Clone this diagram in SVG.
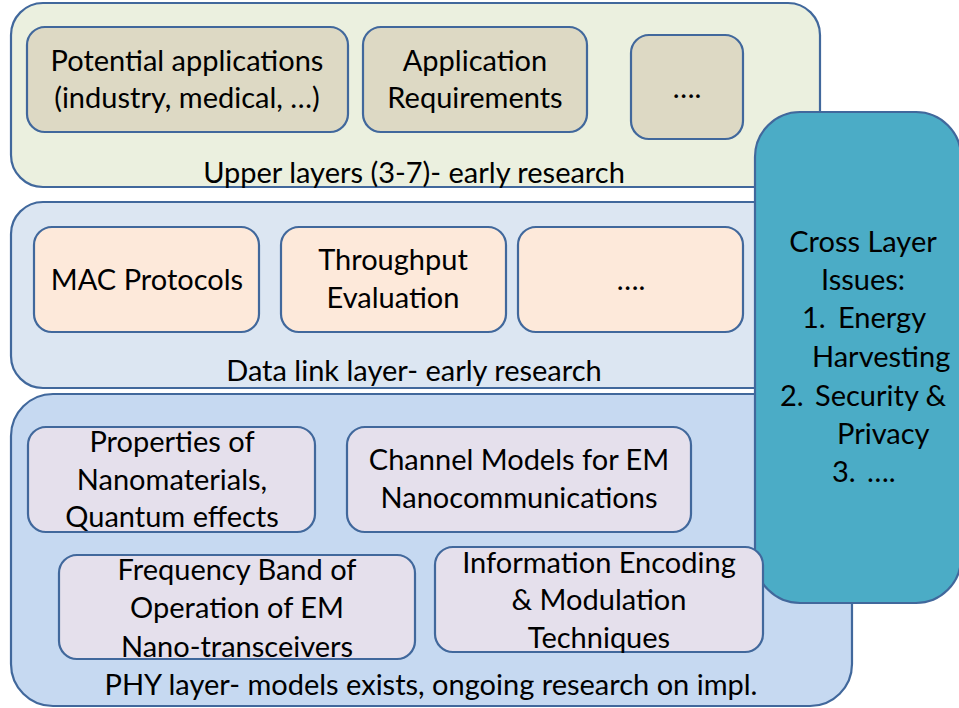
<svg xmlns="http://www.w3.org/2000/svg" width="959" height="708" viewBox="0 0 959 708">
<style>
text{font-family:Lato,"Open Sans","Liberation Sans",sans-serif;font-size:29px;fill:#000;text-anchor:middle}
.layer{stroke:#41689C;stroke-width:2.2}
.node{stroke:#41689C;stroke-width:2.2}
.up{fill:#EBF0DF}
.upn{fill:#DDD9C4}
.dl{fill:#DCE6F2}
.dln{fill:#FDE9DA}
.phy{fill:#C6D9F1}
.phyn{fill:#E5E0EC}
.cross{fill:#4BACC6}
.l{text-anchor:start}
</style>
<g id="upper-layer">
<rect class="layer up" x="11" y="3" width="809" height="184" rx="32"/>
<text x="414" y="183">Upper layers (3-7)- early research</text>
</g>
<g id="datalink-layer">
<rect class="layer dl" x="11" y="202" width="809" height="186" rx="32"/>
<text x="414" y="381">Data link layer- early research</text>
</g>
<g id="phy-layer">
<rect class="layer phy" x="11" y="394" width="841" height="312" rx="42"/>
<text x="431" y="695">PHY layer- models exists, ongoing research on impl.</text>
</g>
<g id="cross-layer">
<rect class="layer cross" x="755" y="112" width="206" height="491" rx="45"/>
<text x="863" y="252">Cross Layer</text>
<text x="863" y="290">Issues:</text>
<text class="l" x="802" y="328">1.</text>
<text class="l" x="838" y="328">Energy</text>
<text class="l" x="812" y="367">Harvesting</text>
<text class="l" x="780" y="406">2.</text>
<text class="l" x="815" y="406">Security &amp;</text>
<text class="l" x="837" y="444">Privacy</text>
<text class="l" x="832" y="482">3.</text>
<text class="l" x="867" y="482">….</text>
</g>
<g id="potential-applications">
<rect class="node upn" x="27" y="27" width="321" height="105" rx="18"/>
<text x="187" y="71">Potential applications</text>
<text x="187" y="108">(industry, medical, …)</text>
</g>
<g id="application-requirements">
<rect class="node upn" x="363" y="27" width="224" height="105" rx="18"/>
<text x="475" y="71">Application</text>
<text x="475" y="108">Requirements</text>
</g>
<g id="upper-more">
<rect class="node upn" x="631" y="35" width="112" height="104" rx="18"/>
<text x="687" y="98">….</text>
</g>
<g id="mac-protocols">
<rect class="node dln" x="34" y="227" width="225" height="105" rx="18"/>
<text x="147" y="290">MAC Protocols</text>
</g>
<g id="throughput-evaluation">
<rect class="node dln" x="281" y="227" width="225" height="105" rx="18"/>
<text x="393" y="270">Throughput</text>
<text x="393" y="308">Evaluation</text>
</g>
<g id="datalink-more">
<rect class="node dln" x="518" y="227" width="225" height="105" rx="18"/>
<text x="631" y="290">….</text>
</g>
<g id="nanomaterials">
<rect class="node phyn" x="28" y="427" width="287" height="105" rx="18"/>
<text x="172" y="452">Properties of</text>
<text x="172" y="490">Nanomaterials,</text>
<text x="172" y="527">Quantum effects</text>
</g>
<g id="channel-models">
<rect class="node phyn" x="347" y="427" width="344" height="105" rx="18"/>
<text x="519" y="470">Channel Models for EM</text>
<text x="519" y="508">Nanocommunications</text>
</g>
<g id="frequency-band">
<rect class="node phyn" x="59" y="555" width="356" height="104" rx="18"/>
<text x="237" y="580">Frequency Band of</text>
<text x="237" y="618">Operation of EM</text>
<text x="237" y="657">Nano-transceivers</text>
</g>
<g id="information-encoding">
<rect class="node phyn" x="435" y="547" width="328" height="105" rx="18"/>
<text x="599" y="573">Information Encoding</text>
<text x="599" y="610">&amp; Modulation</text>
<text x="599" y="648">Techniques</text>
</g>
<g id="connectors"/>
</svg>
